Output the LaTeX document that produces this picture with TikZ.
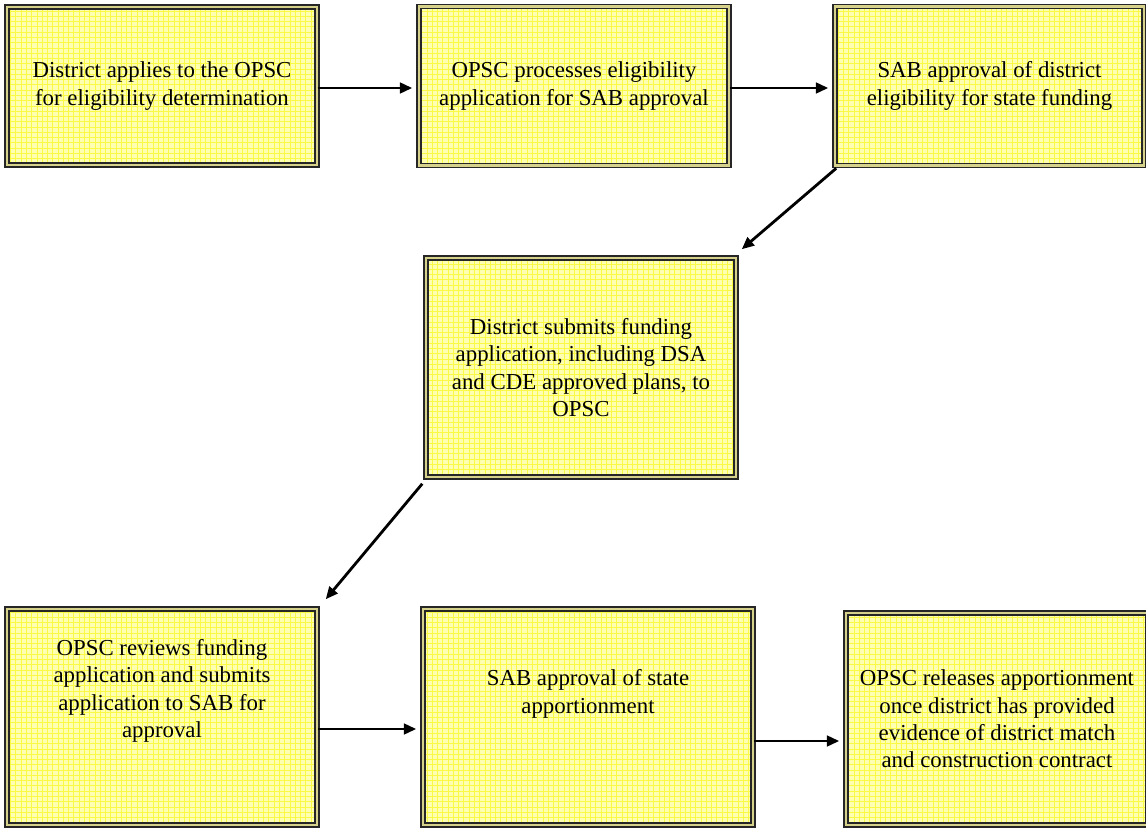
\documentclass[tikz,border=0pt]{standalone}
\usepackage{fontspec}
\setmainfont{Liberation Serif}
\usetikzlibrary{arrows.meta,calc,patterns}
\definecolor{boxfill}{RGB}{255,255,178}
\definecolor{boxgrid}{RGB}{250,250,70}
\definecolor{boxgap}{RGB}{214,210,140}
\tikzset{
  stepbox/.style={draw=black!85,line width=0.9pt,double=boxgap,double distance=1.2pt,
    preaction={fill=boxfill},pattern=grid,pattern color=boxgrid,
    align=center,font=\fontsize{13}{15.6}\selectfont,inner sep=0pt},
  steptext/.style={align=center,font=\fontsize{13}{15.6}\selectfont,inner sep=0pt},
  arr/.style={-{Triangle[length=7pt,width=6pt]},line width=1.6pt},
}
\begin{document}
\begin{tikzpicture}[x=0.02cm,y=-0.02cm]
\useasboundingbox (0,0) rectangle (1146,828);
% eligibility row
\node[stepbox,minimum width=6.2cm,minimum height=3.16cm] (elig) at (162,86) {District applies to the OPSC\\for eligibility determination};
\node[stepbox,minimum width=6.2cm,minimum height=3.18cm] (proc) at (574,86) {OPSC processes eligibility\\application for SAB approval};
\node[stepbox,minimum width=6.18cm,minimum height=3.18cm] (sabelig) at (989.5,86) {SAB approval of district\\eligibility for state funding};
% funding application
\node[stepbox,minimum width=6.2cm,minimum height=4.38cm] (submit) at (581,367.5) {District submits funding\\application, including DSA\\and CDE approved plans, to\\OPSC};
% apportionment row
\node[stepbox,minimum width=6.2cm,minimum height=4.32cm] (review) at (162,717) {};
\node[steptext] (review text) at ($(review)+(0,-26)$) {OPSC reviews funding\\application and submits\\application to SAB for\\approval};
\node[stepbox,minimum width=6.6cm,minimum height=4.32cm] (sabapp) at (588,717) {};
\node[steptext] (sabapp text) at ($(sabapp)+(0,-23)$) {SAB approval of state\\apportionment};
\node[stepbox,minimum width=6.04cm,minimum height=4.24cm] (release) at (997,719) {OPSC releases apportionment\\once district has provided\\evidence of district match\\and construction contract};

\draw[arr] ($(elig.east)+(0,2)$) -- ($(proc.west)+(-6,2)$);
\draw[arr] ($(proc.east)+(0,2)$) -- ($(sabelig.west)+(-6,2)$);
\draw[arr] ($(sabelig.south west)+(2,2)$) -- ($(submit.north east)+(5,-8)$);
\draw[arr] ($(submit.south west)+(-3,6)$) -- ($(review.north east)+(8,-9)$);
\draw[arr] ($(review.east)+(0,12)$) -- ($(sabapp.west)+(-6,12)$);
\draw[arr] ($(sabapp.east)+(0,24)$) -- ($(release.west)+(-6,22)$);
\end{tikzpicture}
\end{document}
